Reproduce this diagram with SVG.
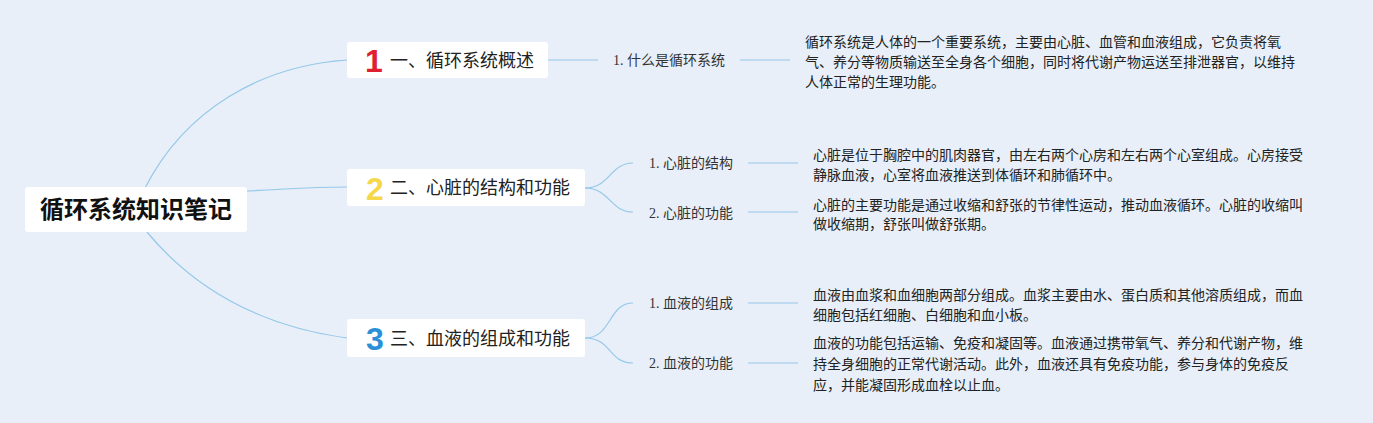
<svg xmlns="http://www.w3.org/2000/svg" width="1373" height="423" viewBox="0 0 1373 423">
<style>
.bg{fill:#e8eff8}
.box{fill:#ffffff}
.conn{fill:none;stroke:#95c8ea;stroke-width:1.2}
.root{font-family:"Liberation Sans","Noto Sans CJK SC",sans-serif;font-size:24px;font-weight:bold;fill:#111}
.main{font-family:"Liberation Sans","Noto Sans CJK SC",sans-serif;font-size:18px;fill:#222}
.num{font-family:"Liberation Sans","Noto Sans CJK SC",sans-serif;font-size:32px;font-weight:bold}
.sub{font-family:"Liberation Serif","Noto Sans CJK SC",sans-serif;font-size:14px;fill:#333}
.para{font-family:"Liberation Sans","Noto Sans CJK SC",sans-serif;font-size:14px;fill:#222}
</style>
<rect class="bg" x="0" y="0" width="1373" height="423"/>
<g id="connectors">
<path class="conn" d="M145,188 C185,110 260,66 347,60"/>
<path class="conn" d="M247,191 C290,189 310,187 347,187"/>
<path class="conn" d="M147,232 C195,290 260,326 347,338"/>
<path class="conn" d="M548,60 L598,60"/>
<path class="conn" d="M740,60 L790,60"/>
<path class="conn" d="M585,188 C610,188 610,163 633,163"/>
<path class="conn" d="M585,188 C610,188 610,212 633,212"/>
<path class="conn" d="M748,163 L798,163"/>
<path class="conn" d="M748,212 L798,212"/>
<path class="conn" d="M585,338 C612,338 608,303 633,303"/>
<path class="conn" d="M585,338 C612,338 608,363 633,363"/>
<path class="conn" d="M748,303 L798,303"/>
<path class="conn" d="M748,363 L798,363"/>
</g>
<g id="root">
<rect class="box" x="25" y="187" width="222" height="45" rx="3"/>
<text class="root" x="136" y="218" text-anchor="middle">循环系统知识笔记</text>
</g>
<g id="n1">
<rect class="box" x="347" y="42" width="201" height="36" rx="3"/>
<text class="num" x="374" y="72" text-anchor="middle" fill="#e0202e">1</text>
<text class="main" x="390" y="67">一、循环系统概述</text>
</g>
<g id="n2">
<rect class="box" x="347" y="169" width="238" height="37" rx="3"/>
<text class="num" x="375" y="200" text-anchor="middle" fill="#f5d74a">2</text>
<text class="main" x="390" y="194">二、心脏的结构和功能</text>
</g>
<g id="n3">
<rect class="box" x="347" y="319" width="238" height="38" rx="3"/>
<text class="num" x="375" y="350" text-anchor="middle" fill="#2a91d9">3</text>
<text class="main" x="390" y="345">三、血液的组成和功能</text>
</g>
<g id="n1-1">
<text class="sub" x="613" y="65">1. 什么是循环系统</text>
</g>
<g id="n1-1-p">
<text class="para" x="805" y="47">循环系统是人体的一个重要系统，主要由心脏、血管和血液组成，它负责将氧</text>
<text class="para" x="805" y="67">气、养分等物质输送至全身各个细胞，同时将代谢产物运送至排泄器官，以维持</text>
<text class="para" x="805" y="87">人体正常的生理功能。</text>
</g>
<g id="n2-1">
<text class="sub" x="649" y="168">1. 心脏的结构</text>
</g>
<g id="n2-1-p">
<text class="para" x="813" y="160">心脏是位于胸腔中的肌肉器官，由左右两个心房和左右两个心室组成。心房接受</text>
<text class="para" x="813" y="180">静脉血液，心室将血液推送到体循环和肺循环中。</text>
</g>
<g id="n2-2">
<text class="sub" x="649" y="218">2. 心脏的功能</text>
</g>
<g id="n2-2-p">
<text class="para" x="813" y="210">心脏的主要功能是通过收缩和舒张的节律性运动，推动血液循环。心脏的收缩叫</text>
<text class="para" x="813" y="229">做收缩期，舒张叫做舒张期。</text>
</g>
<g id="n3-1">
<text class="sub" x="649" y="308">1. 血液的组成</text>
</g>
<g id="n3-1-p">
<text class="para" x="813" y="300">血液由血浆和血细胞两部分组成。血浆主要由水、蛋白质和其他溶质组成，而血</text>
<text class="para" x="813" y="320">细胞包括红细胞、白细胞和血小板。</text>
</g>
<g id="n3-2">
<text class="sub" x="649" y="368">2. 血液的功能</text>
</g>
<g id="n3-2-p">
<text class="para" x="813" y="348">血液的功能包括运输、免疫和凝固等。血液通过携带氧气、养分和代谢产物，维</text>
<text class="para" x="813" y="369">持全身细胞的正常代谢活动。此外，血液还具有免疫功能，参与身体的免疫反</text>
<text class="para" x="813" y="390">应，并能凝固形成血栓以止血。</text>
</g>
</svg>
